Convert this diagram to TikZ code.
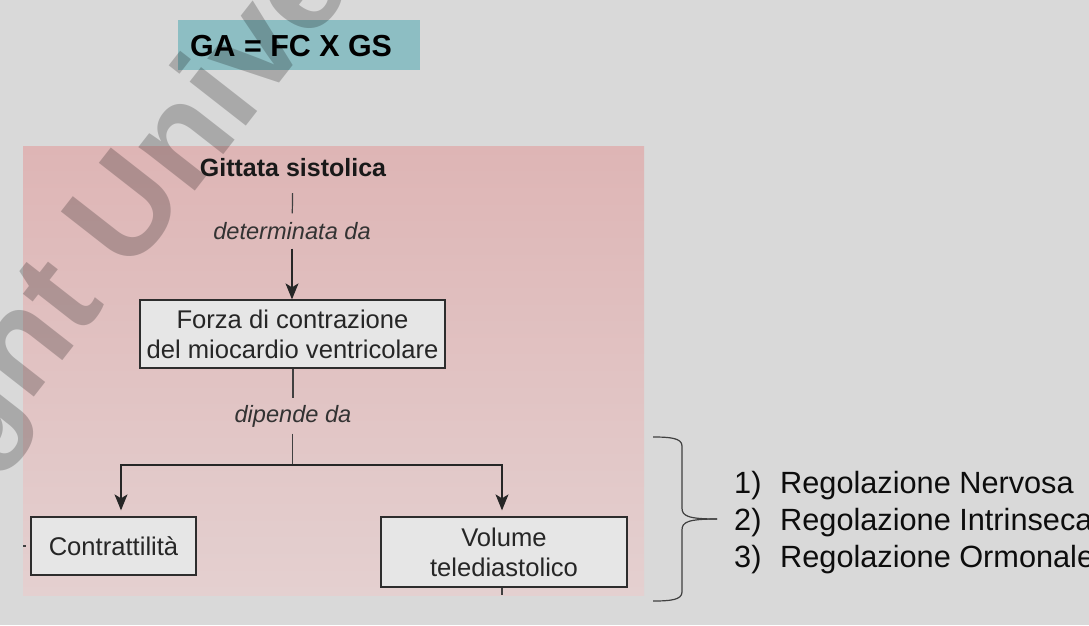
\documentclass[tikz,border=0pt]{standalone}
\usepackage{fontspec}
\setmainfont{Liberation Sans}
\usetikzlibrary{calc,arrows.meta}
\definecolor{slidegrey}{RGB}{217,217,217}
\definecolor{tealbox}{RGB}{141,190,195}
\definecolor{pinktop}{RGB}{222,181,181}
\definecolor{pinkbot}{RGB}{228,208,208}
\definecolor{boxfill}{RGB}{230,230,230}
\definecolor{inkline}{RGB}{45,45,45}
\tikzset{
	schemebox/.style={draw=inkline, line width=1.3pt, fill=boxfill, minimum height=58pt, inner sep=0pt, align=center, font=\fontsize{25.6}{30}\selectfont, text=black!85},
	linktext/.style={inner sep=0pt, minimum height=35pt, font=\fontsize{23.6}{28}\selectfont\itshape, text=black!80},
	arrowline/.style={draw=black!85, line width=1.2pt, -{Stealth[length=16pt,width=13pt,inset=4pt]}},
	plainline/.style={draw=black!75, line width=1.2pt},
	listtext/.style={anchor=base west, inner sep=0pt, font=\fontsize{30.7}{36}\selectfont, text=black!95}
}
\begin{document}
\begin{tikzpicture}[x=1pt, y=-1pt]
		%%%%% BACKGROUND %%%%%
		\useasboundingbox (0, 0) rectangle (1089, 625);
		\fill[slidegrey] (0, 0) rectangle (1089, 625);
		\fill[tealbox] (178, 20) rectangle (420, 70);
		\shade[top color=pinktop, bottom color=pinkbot] (23, 146) rectangle (644, 595);
		
		%%%%% WATERMARK %%%%%
		\begin{scope}
			\clip (0, 0) rectangle (1089, 625);
			\node[anchor=base west, rotate=52, inner sep=0pt, font=\fontsize{135}{135}\selectfont\bfseries, text=black, text opacity=0.22] (mark) at (-286, 807) {Copyright University};
		\end{scope}
		
		%%%%% SCHEME %%%%%
		\node[font=\fontsize{30.4}{36}\selectfont\bfseries, inner sep=0pt] (formula) at (291, 46) {GA = FC X GS};
		\node[font=\fontsize{25}{30}\selectfont\bfseries, inner sep=0pt, minimum height=50pt, text=black!90] (gittata) at (293, 168) {Gittata sistolica};
		\node[linktext] (determinata) at (292, 231) {determinata da};
		\node[schemebox, minimum width=305pt, minimum height=68pt] (forza) at (292.5, 334) {Forza di contrazione\\del miocardio ventricolare};
		\node[linktext] (dipende) at (293, 416) {dipende da};
		\node[schemebox, minimum width=165pt] (contr) at (113.5, 546) {Contrattilità};
		\node[schemebox, minimum width=246pt, minimum height=70pt] (volume) at (504, 552) {Volume\\telediastolico};
		
		\coordinate (split) at (292.5, 465);
		\coordinate (stub) at (502, 595);
		\coordinate (tickl) at (23, 546);
		\coordinate (tickr) at (26, 546);
		
		\draw[plainline] (gittata) -- (determinata);
		\draw[arrowline] (determinata) -- (forza.north -| determinata);
		\draw[plainline] (forza.south -| dipende) -- (dipende);
		\draw[plainline] (dipende.south -| split) -- (split);
		\draw[arrowline, shorten >=6pt] (split) -| (contr.north -| 121, 0);
		\draw[arrowline, shorten >=6pt] (split) -| (volume.north -| 502, 0);
		\draw[plainline] (volume.south -| stub) -- (stub);
		\draw[plainline] (tickl) -- (tickr);
		
		%%%%% BRACE %%%%%
		\coordinate (bracetop) at (653, 437);
		\coordinate (bracebot) at (653, 601);
		\coordinate (bracetip) at (717, 519);
		\draw[plainline] (bracetop) .. controls (670, 437) and (682, 438) .. (682, 446) -- (682, 508) .. controls (682, 516) and (688, 519) .. (bracetip);
		\draw[plainline] (bracebot) .. controls (670, 601) and (682, 600) .. (682, 592) -- (682, 530) .. controls (682, 522) and (688, 519) .. (bracetip);
		
		%%%%% LIST %%%%%
		\node[listtext] (numa) at (734, 493) {1)};
		\node[listtext] (numb) at (734, 530) {2)};
		\node[listtext] (numc) at (734, 567) {3)};
		\node[listtext] (rega) at (780, 493) {Regolazione Nervosa};
		\node[listtext] (regb) at (780, 530) {Regolazione Intrinseca};
		\node[listtext] (regc) at (780, 567) {Regolazione Ormonale};
		
		%%%%% END %%%%%
	\end{tikzpicture}
\end{document}
